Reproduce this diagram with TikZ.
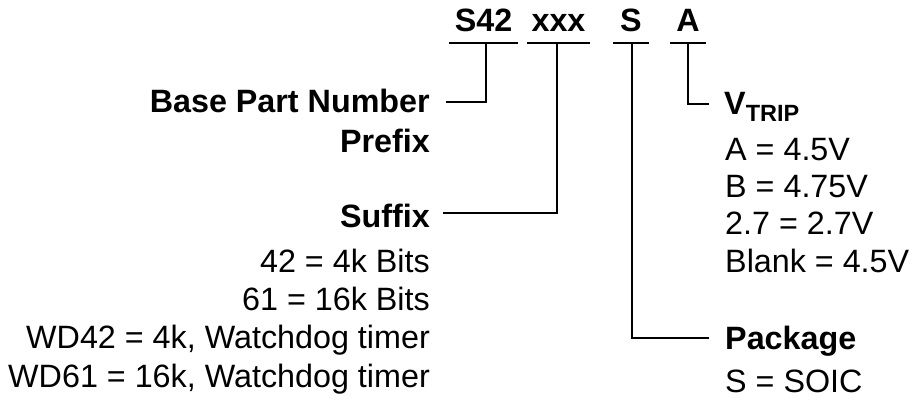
\documentclass[tikz,border=0pt]{standalone}
\usepackage{fontspec}
\setmainfont{Liberation Sans}
\begin{document}
\begin{tikzpicture}[x=1pt,y=-1pt,
  lbl/.style={inner sep=0pt,font=\fontsize{32.3}{38}\selectfont},
  blbl/.style={lbl,font=\fontsize{32.3}{38}\selectfont\bfseries},
  wire/.style={line width=1.6pt,line cap=rect}]
\useasboundingbox (0,0) rectangle (912,401);
% top code labels
\node[blbl,anchor=base] (s42) at (483.5,32) {S42};
\node[blbl,anchor=base] (xxx) at (558.5,32) {xxx};
\node[blbl,anchor=base] (pkg) at (631,32) {S};
\node[blbl,anchor=base] (vt) at (688,32) {A};
% underline coordinates
\coordinate (u1a) at (450,43); \coordinate (u1b) at (517,43);
\coordinate (u2a) at (528,43); \coordinate (u2b) at (589,43);
\coordinate (u3a) at (614,43); \coordinate (u3b) at (648,43);
\coordinate (u4a) at (671,43); \coordinate (u4b) at (705,43);
\draw[wire] (u1a) -- (u1b);
\draw[wire] (u2a) -- (u2b);
\draw[wire] (u3a) -- (u3b);
\draw[wire] (u4a) -- (u4b);
% left column
\node[blbl,anchor=base east] (bpn) at (430,113) {Base Part Number};
\node[blbl,anchor=base east] (pre) at (430,152) {Prefix};
\node[blbl,anchor=base east] (suf) at (430,227) {Suffix};
\node[lbl,anchor=base east] (l1) at (430,272) {42 = 4k Bits};
\node[lbl,anchor=base east] (l2) at (430,310) {61 = 16k Bits};
\node[lbl,anchor=base east] (l3) at (430,348) {WD42 = 4k, Watchdog timer};
\node[lbl,anchor=base east] (l4) at (430,387) {WD61 = 16k, Watchdog timer};
% right column
\node[blbl,anchor=base west] (vtrip) at (724,115) {V\raisebox{-6pt}{\fontsize{23.5}{25}\selectfont TRIP}};
\node[lbl,anchor=base west] (r1) at (725,160) {A = 4.5V};
\node[lbl,anchor=base west] (r2) at (725,197) {B = 4.75V};
\node[lbl,anchor=base west] (r3) at (725,234) {2.7 = 2.7V};
\node[lbl,anchor=base west] (r4) at (725,272) {Blank = 4.5V};
\node[blbl,anchor=base west] (pk) at (725,349) {Package};
\node[lbl,anchor=base west] (r5) at (725,392) {S = SOIC};
% connectors
\coordinate (c1top) at (486,43); \coordinate (c1bot) at (486,102); \coordinate (c1end) at (446,102);
\coordinate (c2top) at (557,43); \coordinate (c2bot) at (557,213); \coordinate (c2end) at (443,213);
\coordinate (c3top) at (632,43); \coordinate (c3bot) at (632,338); \coordinate (c3end) at (709,338);
\coordinate (c4top) at (688,43); \coordinate (c4bot) at (688,104); \coordinate (c4end) at (709,104);
\draw[wire,line cap=butt] (c1top) -- (c1bot) -- (c1end);
\draw[wire,line cap=butt] (c2top) -- (c2bot) -- (c2end);
\draw[wire,line cap=butt] (c3top) -- (c3bot) -- (c3end);
\draw[wire,line cap=butt] (c4top) -- (c4bot) -- (c4end);
\end{tikzpicture}
\end{document}
